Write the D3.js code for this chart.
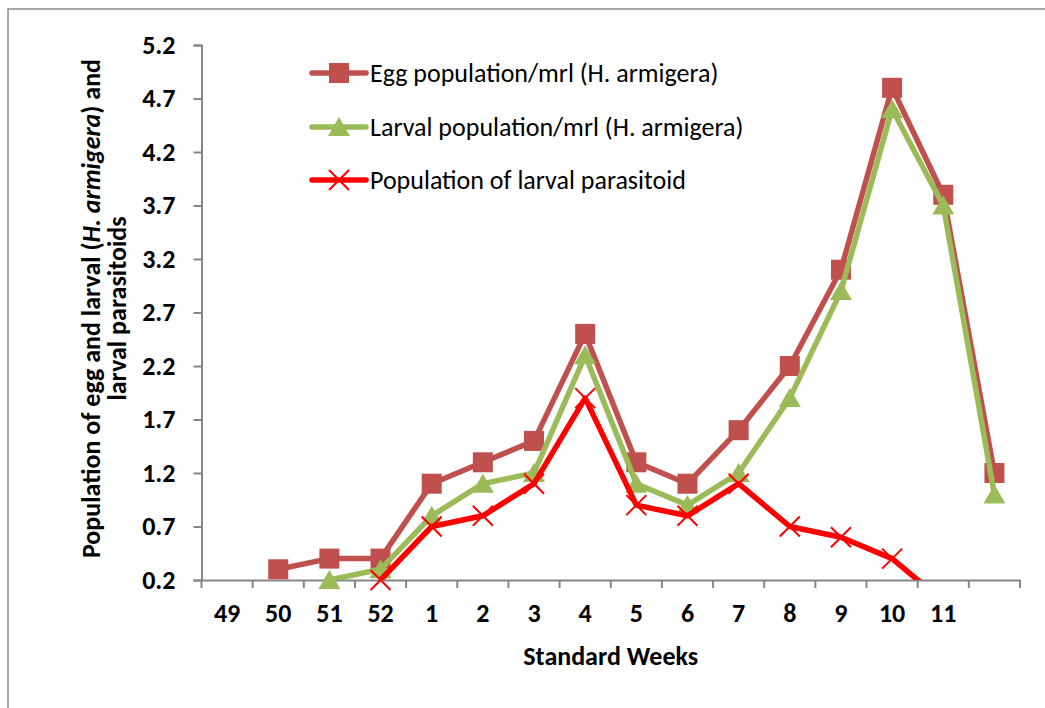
<!DOCTYPE html>
<html>
<head>
<meta charset="utf-8">
<script src="https://cdn.jsdelivr.net/npm/d3@7"></script>
<style>
  body { margin: 0; background: #fff; }
  svg text { font-family: Carlito, Calibri, Lato, sans-serif; fill: #000; }
</style>
</head>
<body>
<script>
// Data
const weeks = ["49", "50", "51", "52", "1", "2", "3", "4", "5", "6", "7", "8", "9", "10", "11", ""];
const eggPop = [null, 0.3, 0.4, 0.4, 1.1, 1.3, 1.5, 2.5, 1.3, 1.1, 1.6, 2.2, 3.1, 4.8, 3.8, 1.2];
const larvalPop = [null, null, 0.2, 0.3, 0.8, 1.1, 1.2, 2.3, 1.1, 0.9, 1.2, 1.9, 2.9, 4.6, 3.7, 1.0];
const parasitoidPop = [null, null, null, 0.2, 0.7, 0.8, 1.1, 1.9, 0.9, 0.8, 1.1, 0.7, 0.6, 0.4, 0, null];
const yTicks = [0.2, 0.7, 1.2, 1.7, 2.2, 2.7, 3.2, 3.7, 4.2, 4.7, 5.2];
const seriesNames = ["Egg population/mrl (H. armigera)", "Larval population/mrl (H. armigera)", "Population of larval parasitoid"];

const width = 1045, height = 708;
const plotLeft = 201.5, plotRight = 1020, plotTop = 45, plotBottom = 580;
const fontSize = 26;

const svg = d3.select("body").append("svg")
  .attr("width", width)
  .attr("height", height);

// outer chart border (runs off the page on right / bottom)
svg.append("rect")
  .attr("x", 8).attr("y", 9)
  .attr("width", 1100).attr("height", 800)
  .attr("fill", "none")
  .attr("stroke", "#8a8a8a")
  .attr("stroke-width", 1.5);

const x = d3.scaleBand().domain(weeks).range([plotLeft, plotRight]);
const y = d3.scaleLinear().domain([0.2, 5.2]).range([plotBottom, plotTop]);

// y axis
const yAxis = svg.append("g")
  .attr("transform", `translate(${plotLeft},0)`)
  .call(d3.axisLeft(y).tickValues(yTicks).tickFormat(d3.format(".1f")).tickSize(8).tickPadding(18));
yAxis.selectAll("text").attr("font-size", fontSize).attr("font-weight", "bold")
  .style("font-family", "Carlito, Calibri, Lato, sans-serif");

// x axis: labels centred in bands, ticks on band edges
const xAxis = svg.append("g")
  .attr("transform", `translate(0,${plotBottom})`)
  .call(d3.axisBottom(x).tickSize(0).tickPadding(24));
xAxis.selectAll("text").attr("font-size", fontSize).attr("font-weight", "bold")
  .style("font-family", "Carlito, Calibri, Lato, sans-serif");
xAxis.selectAll(".edge")
  .data(weeks.map(d => x(d)).concat([plotRight]))
  .enter().append("line")
  .attr("class", "edge")
  .attr("x1", d => d).attr("x2", d => d)
  .attr("y1", 0).attr("y2", 8);

svg.selectAll(".domain, .tick line, .edge")
  .attr("stroke", "#868686")
  .attr("stroke-width", 2);

// axis titles
svg.append("text")
  .attr("x", (plotLeft + plotRight) / 2)
  .attr("y", 665)
  .attr("text-anchor", "middle")
  .attr("font-size", fontSize)
  .attr("font-weight", "bold")
  .text("Standard Weeks");

const yTitle = svg.append("text")
  .attr("transform", `translate(100,${(plotTop + plotBottom) / 2 - 4}) rotate(-90)`)
  .attr("text-anchor", "middle")
  .attr("font-size", fontSize)
  .attr("font-weight", "bold");
yTitle.append("tspan").text("Population of egg and larval (");
yTitle.append("tspan").attr("font-style", "italic").text("H. armigera");
yTitle.append("tspan").text(") and");
svg.append("text")
  .attr("transform", `translate(126,${(plotTop + plotBottom) / 2 - 4}) rotate(-90)`)
  .attr("text-anchor", "middle")
  .attr("font-size", fontSize)
  .attr("font-weight", "bold")
  .text("larval parasitoids");

// clip lines to plot area
svg.append("clipPath").attr("id", "plot")
  .append("rect")
  .attr("x", plotLeft).attr("y", plotTop)
  .attr("width", plotRight - plotLeft).attr("height", plotBottom - plotTop);

const cx = i => x(weeks[i]) + x.bandwidth() / 2;
const line = d3.line()
  .defined(d => d[1] !== null)
  .x(d => cx(d[0]))
  .y(d => y(d[1]));

const series = [
  { values: eggPop, color: "#C0504D", marker: "square" },
  { values: larvalPop, color: "#9BBB59", marker: "triangle" },
  { values: parasitoidPop, color: "#FF0000", marker: "cross" }
];

function drawMarker(g, type, color) {
  if (type === "square") {
    g.append("rect").attr("x", -10).attr("y", -10).attr("width", 20).attr("height", 20).attr("fill", color);
  } else if (type === "triangle") {
    g.append("path").attr("d", "M0,-10L11,9L-11,9Z").attr("fill", color);
  } else {
    g.append("path").attr("d", "M-10,-10L10,10M-10,10L10,-10")
      .attr("stroke", color).attr("stroke-width", 2).attr("fill", "none");
  }
}

series.forEach(s => {
  const pts = s.values.map((v, i) => [i, v]);
  svg.append("path")
    .datum(pts)
    .attr("clip-path", "url(#plot)")
    .attr("fill", "none")
    .attr("stroke", s.color)
    .attr("stroke-width", 5.5)
    .attr("stroke-linejoin", "round")
    .attr("d", line);

  pts.filter(d => d[1] !== null && d[1] >= 0.2).forEach(d => {
    const g = svg.append("g").attr("transform", `translate(${cx(d[0])},${y(d[1])})`);
    drawMarker(g, s.marker, s.color);
  });
});

// legend
const legendRows = [73, 127, 180];
seriesNames.forEach((name, i) => {
  const g = svg.append("g").attr("transform", `translate(312,${legendRows[i]})`);
  g.append("line")
    .attr("x1", 0).attr("x2", 54)
    .attr("stroke", series[i].color)
    .attr("stroke-width", 5.5)
    .attr("stroke-linecap", "round");
  const m = g.append("g").attr("transform", "translate(27,0)");
  drawMarker(m, series[i].marker, series[i].color);
  g.append("text")
    .attr("x", 58)
    .attr("dy", "0.35em")
    .attr("font-size", fontSize)
    .text(name);
});
</script>
</body>
</html>
